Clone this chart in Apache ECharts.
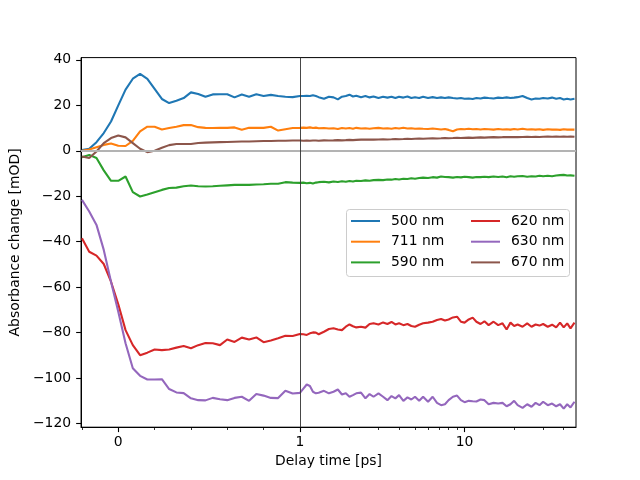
<!DOCTYPE html>
<html>
<head>
<meta charset="utf-8">
<script src="https://cdn.jsdelivr.net/npm/echarts@6/dist/echarts.min.js"></script>
<style>
    html, body { margin: 0; padding: 0; background: #fff; }
    #tr-chart { width: 640px; height: 480px; }
</style>
</head>
<body>
<div id="tr-chart"></div>
<script>
// delay times in ps: linear part up to 1 ps, log part after
var delays = [-0.2, -0.16, -0.12, -0.08, -0.04, 0, 0.04, 0.08, 0.12, 0.16, 0.2, 0.24, 0.28, 0.32, 0.36, 0.4,
    0.44, 0.48, 0.52, 0.56, 0.6, 0.64, 0.68, 0.72, 0.76, 0.8, 0.84, 0.88, 0.92, 0.96, 1.0,
    1.05, 1.1, 1.15, 1.2, 1.25, 1.3, 1.4, 1.5, 1.6, 1.7, 1.8, 1.9, 2.0, 2.1, 2.2, 2.35, 2.5, 2.65, 2.8,
    3.0, 3.2, 3.4, 3.6, 3.8, 4.0, 4.25, 4.5, 4.75, 5.0, 5.3, 5.6, 6.0, 6.4, 6.8, 7.2, 7.6, 8.0, 8.5,
    9.0, 9.5, 10, 10.6, 11.2, 11.8, 12.5, 13.2, 14, 15, 16, 17, 18, 19, 20, 21, 22.5, 24, 25.5, 27,
    28.5, 30, 32, 34, 36, 38, 40, 42, 44, 46.5];

var wl500 = [0.3, 0.9, 3.8, 7.8, 12.9, 20.0, 26.9, 31.7, 33.8, 31.6, 27.2, 22.8, 21.0, 22.0, 23.2, 25.7,
    25.0, 23.8, 24.8, 24.9, 24.9, 23.5, 24.8, 23.8, 24.9, 24.1, 24.6, 24.1, 23.8, 23.6, 24.1,
    24.1, 24.2, 24.1, 24.4, 24.1, 23.6, 22.9, 23.8, 23.5, 22.6, 23.8, 24.1, 24.7, 23.9, 24.2, 23.6, 24.1, 23.5, 23.9,
    23.2, 23.8, 23.4, 23.8, 23.2, 23.8, 23.4, 23.9, 23.2, 23.6, 23.2, 23.8, 23.2, 23.6, 23.2, 23.5, 23.2, 23.5, 23.2,
    23.0, 23.2, 22.9, 23.0, 22.8, 23.2, 23.0, 23.4, 23.2, 23.0, 23.4, 23.2, 23.5, 23.2, 23.4, 23.6, 24.1, 23.2, 22.6, 23.0,
    22.9, 23.2, 23.0, 23.4, 22.9, 23.2, 22.6, 22.9, 22.6, 22.9];

var wl711 = [0.0, 0.6, 1.6, 2.6, 3.2, 2.2, 2.1, 4.4, 8.5, 10.6, 10.6, 9.4, 10.0, 10.6, 11.3, 11.3,
    10.4, 10.1, 10.0, 10.1, 10.1, 10.3, 9.3, 10.1, 10.1, 10.1, 10.6, 8.9, 9.5, 10.0, 10.1,
    10.2, 10.1, 10.3, 10.0, 10.2, 9.9, 10.0, 9.8, 9.9, 9.6, 10.0, 9.8, 10.0, 9.7, 10.1, 9.8, 9.9, 9.7, 9.9,
    10.1, 9.8, 9.9, 9.7, 10.0, 9.8, 10.1, 9.8, 9.9, 9.7, 9.8, 9.7, 9.6, 9.8, 9.6, 9.4, 9.6, 9.2, 8.6,
    9.4, 9.6, 9.5, 9.7, 9.5, 9.6, 9.4, 9.6, 9.5, 9.3, 9.6, 9.4, 9.5, 9.3, 9.6, 9.4, 9.7, 9.4, 9.5, 9.3,
    9.5, 9.2, 9.5, 9.3, 9.4, 9.2, 9.5, 9.3, 9.4, 9.3];

var wl590 = [-2.8, -1.8, -3.2, -8.6, -13.2, -13.2, -11.3, -18.2, -20.1, -19.2, -18.2, -17.2, -16.4, -16.2, -15.6, -15.3,
    -15.6, -15.7, -15.6, -15.4, -15.2, -15.0, -15.0, -15.0, -14.8, -14.7, -14.5, -14.5, -13.8, -14.0, -14.1,
    -14.0, -14.3, -14.1, -14.4, -14.0, -13.8, -13.6, -13.9, -13.5, -13.7, -13.4, -13.6, -13.3, -13.5, -13.2, -13.3, -13.0, -13.2, -12.9,
    -12.8, -12.9, -12.6, -12.7, -12.4, -12.6, -12.3, -12.4, -12.1, -12.3, -12.0, -11.8, -12.0, -11.6, -11.8, -11.3, -11.5, -11.6, -11.8,
    -11.5, -11.7, -11.4, -11.6, -11.8, -11.5, -11.6, -11.4, -11.6, -11.3, -11.5, -11.3, -11.6, -11.2, -11.4, -11.2, -11.1, -11.4, -11.2, -11.3,
    -11.0, -11.2, -11.0, -11.2, -10.9, -10.7, -10.6, -10.9, -10.8, -11.0];

var wl620 = [-38.5, -44.4, -46.1, -49.8, -57.6, -67.5, -78.9, -85.5, -89.9, -88.8, -87.4, -87.7, -87.4, -86.6, -85.9, -86.9,
    -85.5, -84.6, -84.7, -85.5, -83.0, -84.1, -82.2, -83.0, -82.1, -84.2, -83.5, -82.5, -81.4, -81.5, -80.6,
    -80.7, -81.0, -80.3, -79.9, -80.0, -80.7, -79.6, -78.4, -78.1, -78.6, -78.9, -77.4, -76.4, -77.2, -77.7, -77.4, -77.8, -76.2, -75.9,
    -76.4, -75.5, -76.2, -75.3, -76.4, -75.9, -76.7, -76.2, -77.1, -77.4, -76.5, -75.9, -75.6, -75.2, -74.4, -74.0, -74.7, -74.2, -73.3,
    -73.0, -75.2, -75.6, -74.2, -73.4, -75.2, -76.2, -75.0, -76.7, -75.2, -76.7, -75.9, -78.6, -75.6, -77.1, -76.4, -77.4, -75.9, -77.4, -76.4,
    -76.9, -76.2, -77.4, -76.5, -77.7, -75.6, -77.7, -75.9, -78.1, -75.6];

var wl630 = [-21.6, -26.7, -32.6, -43.6, -57.6, -70.8, -84.7, -95.7, -99.0, -100.6, -100.6, -100.5, -104.8, -106.3, -106.6, -108.9,
    -109.7, -109.8, -108.7, -109.3, -109.7, -108.7, -108.2, -110.0, -107.0, -107.7, -108.7, -108.8, -105.6, -106.8, -106.5,
    -104.6, -102.8, -103.5, -106.0, -106.7, -106.4, -105.6, -106.7, -106.0, -105.0, -107.2, -106.7, -108.2, -107.5, -106.7, -106.4, -108.9, -107.0, -108.2,
    -106.7, -108.2, -109.7, -107.9, -108.9, -107.5, -110.0, -108.5, -109.4, -108.2, -110.0, -108.2, -110.4, -108.2, -110.9, -111.9, -111.5, -109.7, -108.2,
    -107.7, -109.7, -110.6, -110.0, -110.2, -110.3, -109.4, -109.7, -111.5, -110.9, -111.2, -110.9, -112.4, -111.5, -110.0, -111.9, -113.1, -111.5, -112.6, -110.9,
    -111.9, -110.4, -111.9, -111.2, -112.4, -111.5, -113.4, -111.5, -112.9, -110.4];

var wl670 = [-2.5, -3.2, -0.3, 3.4, 5.6, 6.7, 5.9, 3.4, 0.9, -0.6, 0.0, 1.3, 2.5, 3.0, 3.0, 3.0,
    3.4, 3.6, 3.7, 3.8, 3.9, 4.0, 4.1, 4.1, 4.2, 4.3, 4.3, 4.4, 4.4, 4.5, 4.5,
    4.4, 4.5, 4.4, 4.5, 4.5, 4.4, 4.6, 4.5, 4.6, 4.7, 4.6, 4.7, 4.8, 4.7, 4.8, 4.9, 4.9, 5.0, 4.9,
    5.0, 5.1, 5.0, 5.1, 5.2, 5.1, 5.2, 5.3, 5.2, 5.3, 5.4, 5.3, 5.4, 5.5, 5.4, 5.5, 5.6, 5.5, 5.6,
    5.7, 5.6, 5.7, 5.8, 5.7, 5.8, 5.9, 5.8, 5.9, 6.0, 5.9, 6.0, 6.1, 6.0, 6.1, 6.0, 6.1, 6.2, 6.1, 6.2,
    6.1, 6.2, 6.3, 6.2, 6.3, 6.2, 6.3, 6.2, 6.3, 6.2];

var seriesNames = ['500 nm', '711 nm', '590 nm', '620 nm', '630 nm', '670 nm'];
var seriesValues = [wl500, wl711, wl590, wl620, wl630, wl670];
var seriesColors = ['#1f77b4', '#ff7f0e', '#2ca02c', '#d62728', '#9467bd', '#8c564b'];

var majorDelays = [0, 1, 10];
var minorDelays = [-0.2, 0.2, 0.4, 0.6, 0.8, 2, 3, 4, 5, 6, 7, 8, 9, 20, 30, 40];
var yTicks = [-120, -100, -80, -60, -40, -20, 0, 20, 40];

// linear up to 1 ps, log10 above (one decade = 165px vs 182px per ps)
var LOG_SCALE = 165 / 182;
function delayToAxis(t) {
    if (t <= 1) {
        return t;
    }
    return 1 + Math.log10(t) * LOG_SCALE;
}

function axisToLabel(v) {
    var best = majorDelays[0];
    for (var i = 0; i < majorDelays.length; i++) {
        if (Math.abs(delayToAxis(majorDelays[i]) - v) < Math.abs(delayToAxis(best) - v)) {
            best = majorDelays[i];
        }
    }
    return String(best);
}

function buildSeries() {
    var list = [];
    for (var s = 0; s < seriesNames.length; s++) {
        var pts = [];
        for (var i = 0; i < delays.length; i++) {
            pts.push([delayToAxis(delays[i]), seriesValues[s][i]]);
        }
        list.push({
            name: seriesNames[s],
            type: 'line',
            symbol: 'none',
            data: pts,
            lineStyle: { width: 2.1, color: seriesColors[s] },
            itemStyle: { color: seriesColors[s] },
            z: 3
        });
    }
    // reference lines at 0 mOD and 1 ps
    list.unshift({
        name: 'refs',
        type: 'line',
        data: [],
        silent: true,
        z: 2,
        markLine: {
            symbol: 'none',
            silent: true,
            label: { show: false },
            data: [
                { yAxis: 0, lineStyle: { color: '#b3b3b3', width: 2, type: 'solid' } },
                { xAxis: delayToAxis(1), lineStyle: { color: '#333333', width: 0.9, type: 'solid' } }
            ]
        }
    });
    return list;
}

var xMin = -0.205;
var xMax = delayToAxis(47.5);
var font = 'DejaVu Sans';

var option = {
    animation: false,
    grid: {
        left: 80,
        right: 64,
        top: 57.6,
        bottom: 52.8,
        show: true,
        borderColor: '#000',
        borderWidth: 1,
        backgroundColor: 'transparent'
    },
    graphic: [{
        type: 'rect',
        z: 10,
        shape: { x: 346.5, y: 209.5, width: 223, height: 67, r: 3 },
        style: { fill: 'rgba(255,255,255,0.8)', stroke: '#cccccc', lineWidth: 1 }
    }],
    legend: [
        {
            data: seriesNames.slice(0, 3),
            orient: 'vertical',
            left: 351,
            top: 214,
            padding: 0,
            itemGap: 6.7,
            itemWidth: 29,
            itemHeight: 2,
            icon: 'rect',
            z: 20,
            textStyle: { fontFamily: font, fontSize: 13.9, color: '#000', lineHeight: 14, padding: [0, 0, 0, 6] }
        },
        {
            data: seriesNames.slice(3),
            orient: 'vertical',
            left: 471,
            top: 214,
            padding: 0,
            itemGap: 6.7,
            itemWidth: 29,
            itemHeight: 2,
            icon: 'rect',
            z: 20,
            textStyle: { fontFamily: font, fontSize: 13.9, color: '#000', lineHeight: 14, padding: [0, 0, 0, 6] }
        }
    ],
    xAxis: [
        {
            type: 'value',
            min: xMin,
            max: xMax,
            name: 'Delay time [ps]',
            nameLocation: 'middle',
            nameGap: 27.5,
            nameTextStyle: { fontFamily: font, fontSize: 13.9, color: '#000' },
            splitLine: { show: false },
            axisLine: { show: true, onZero: false, lineStyle: { color: '#000', width: 1 } },
            axisTick: {
                show: true,
                length: 4.9,
                lineStyle: { color: '#000', width: 1.1 },
                customValues: majorDelays.map(delayToAxis)
            },
            axisLabel: {
                show: true,
                margin: 8,
                fontFamily: font,
                fontSize: 13.9,
                color: '#000',
                customValues: majorDelays.map(delayToAxis),
                formatter: axisToLabel
            }
        },
        {
            type: 'value',
            min: xMin,
            max: xMax,
            position: 'bottom',
            splitLine: { show: false },
            axisLine: { show: false, onZero: false },
            axisLabel: { show: false },
            axisTick: {
                show: true,
                length: 2.8,
                lineStyle: { color: '#000', width: 0.8 },
                customValues: minorDelays.map(delayToAxis)
            }
        }
    ],
    yAxis: {
        type: 'value',
        min: -121.6,
        max: 41.0,
        name: 'Absorbance change [mOD]',
        nameLocation: 'middle',
        nameGap: 51,
        nameRotate: 90,
        nameTextStyle: { fontFamily: font, fontSize: 13.9, color: '#000' },
        splitLine: { show: false },
        axisLine: { show: true, onZero: false, lineStyle: { color: '#000', width: 1 } },
        axisTick: {
            show: true,
            length: 4.9,
            lineStyle: { color: '#000', width: 1.1 },
            customValues: yTicks
        },
        axisLabel: {
            margin: 10,
            padding: [4, 0, 0, 0],
            fontFamily: font,
            fontSize: 13.9,
            color: '#000',
            customValues: yTicks,
            formatter: function (v) {
                return v < 0 ? '\u2212' + Math.abs(v) : String(v);
            }
        }
    },
    series: buildSeries()
};

var trChart = echarts.init(document.getElementById('tr-chart'));
trChart.setOption(option);
</script>
</body>
</html>
